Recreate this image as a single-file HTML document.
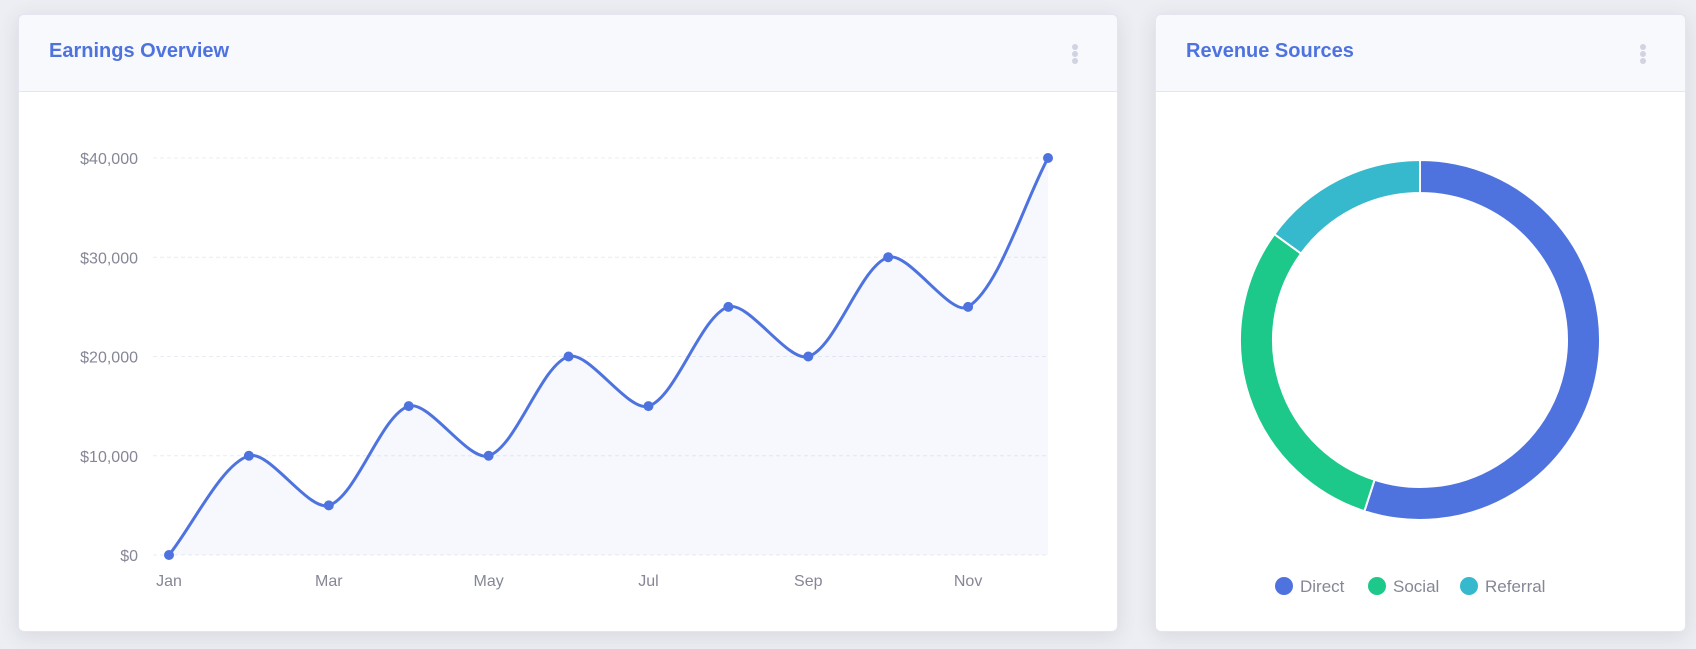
<!DOCTYPE html>
<html><head><meta charset="utf-8"><style>
html,body{margin:0;padding:0;width:1696px;height:649px;background:#eceef3;font-family:"Liberation Sans",sans-serif;overflow:hidden}
.card{position:absolute;top:14px;height:616px;background:#fff;border:1px solid #e3e6f0;border-radius:6px;box-shadow:0 4px 20px rgba(58,59,69,0.12);overflow:hidden}
.hdr{position:absolute;left:0;right:0;top:0;height:76px;background:#f8f9fc;border-bottom:1px solid #e3e6f0}
.title{position:absolute;left:30px;top:25px;font-size:20px;font-weight:bold;color:#4e73df}
.dots{position:absolute;top:29px;width:6px}
.dots i{display:block;width:6px;height:6px;border-radius:3px;background:#d1d3e2;margin-bottom:1px}
svg{position:absolute;left:0;top:0}
</style></head><body>
<div class="card" style="left:18px;width:1098px">
 <div class="hdr">
  <div class="title">Earnings Overview</div>
  <div class="dots" style="left:1053px"><i></i><i></i><i></i></div>
 </div>
</div>
<div class="card" style="left:1155px;width:529px">
 <div class="hdr">
  <div class="title">Revenue Sources</div>
  <div class="dots" style="left:484px"><i></i><i></i><i></i></div>
 </div>
</div>
<svg id="chart" width="1696" height="649"></svg>
<script>
const months=["Jan","Feb","Mar","Apr","May","Jun","Jul","Aug","Sep","Oct","Nov","Dec"];
const earnings=[0,10000,5000,15000,10000,20000,15000,25000,20000,30000,25000,40000];
const yTicks=[0,10000,20000,30000,40000];
const donutLabels=["Direct","Social","Referral"];
const donutValues=[55,30,15];
const donutColors=["#4e73df","#1cc88a","#36b9cc"];

const NS="http://www.w3.org/2000/svg";
const svg=document.getElementById('chart');
function mk(t,a,p){const e=document.createElementNS(NS,t);for(const k in a)e.setAttribute(k,a[k]);(p||svg).appendChild(e);return e;}
const x0=169,x1=1048,yb=555,yt=158,ymax=40000;
const xs=i=>x0+(x1-x0)*i/(months.length-1);
const ys=v=>yb-(yb-yt)*v/ymax;

yTicks.forEach(v=>{
 const g=mk('line',{x1:153,x2:x1,y1:ys(v),y2:ys(v),stroke:'#eaecf4','stroke-dasharray':'4 3','stroke-width':1});
 
 
 const t=mk('text',{x:138,y:ys(v)+6,'text-anchor':'end','font-size':16,fill:'#858796','font-family':'Liberation Sans, sans-serif'});
 t.textContent='$'+v.toLocaleString('en-US');
 
 
});
months.forEach((m,i)=>{
 if(i%2) return;
 const t=mk('text',{x:xs(i),y:586,'text-anchor':'middle','font-size':16,fill:'#858796','font-family':'Liberation Sans, sans-serif'});
 t.textContent=m;
 
 
});
// spline (Chart.js-like tension 0.3)
const pts=earnings.map((v,i)=>[xs(i),ys(v)]);
const T=0.3;
let d='M'+pts[0][0]+','+pts[0][1];
function ctrl(i){
 const p=pts[Math.max(i-1,0)],c=pts[i],n=pts[Math.min(i+1,pts.length-1)];
 const d01=Math.hypot(c[0]-p[0],c[1]-p[1]),d12=Math.hypot(n[0]-c[0],n[1]-c[1]);
 let fa=d01/(d01+d12)||0,fb=d12/(d01+d12)||0;fa*=T;fb*=T;
 return {prev:[c[0]-fa*(n[0]-p[0]),c[1]-fa*(n[1]-p[1])],next:[c[0]+fb*(n[0]-p[0]),c[1]+fb*(n[1]-p[1])]};
}
const cs=pts.map((_,i)=>ctrl(i));
for(let i=1;i<pts.length;i++){
 const a=cs[i-1].next,b=cs[i].prev;
 d+=` C${a[0]},${a[1]} ${b[0]},${b[1]} ${pts[i][0]},${pts[i][1]}`;
}
const area=mk('path',{d:d+` L${x1},${yb} L${x0},${yb} Z`,fill:'rgba(78,115,223,0.05)'});


const line=mk('path',{d:d,fill:'none',stroke:'#4e73df','stroke-width':3});


pts.forEach(p=>{
 const c=mk('circle',{cx:p[0],cy:p[1],r:5,fill:'#4e73df'});
 
 
});
// donut
const cx=1420,cy=340,R=180,r=147;
const total=donutValues.reduce((a,b)=>a+b,0);
let ang=-Math.PI/2;
donutValues.forEach((v,i)=>{
 const a2=ang+2*Math.PI*v/total;
 const large=(a2-ang)>Math.PI?1:0;
 const P=(rr,a)=>[cx+rr*Math.cos(a),cy+rr*Math.sin(a)];
 const [ax,ay]=P(R,ang),[bx,by]=P(R,a2),[cx2,cy2]=P(r,a2),[dx,dy]=P(r,ang);
 const s=mk('path',{d:`M${ax},${ay} A${R},${R} 0 ${large} 1 ${bx},${by} L${cx2},${cy2} A${r},${r} 0 ${large} 0 ${dx},${dy} Z`,fill:donutColors[i],stroke:'#fff','stroke-width':2});
 
 
 ang=a2;
});
const lx=[1284,1377,1469];
donutLabels.forEach((l,i)=>{
 const c=mk('circle',{cx:lx[i],cy:586,r:9,fill:donutColors[i]});
 
 
 const t=mk('text',{x:lx[i]+16,y:592,'font-size':17,fill:'#858796','font-family':'Liberation Sans, sans-serif'});
 t.textContent=l;
 
 
});
</script>
</body></html>
